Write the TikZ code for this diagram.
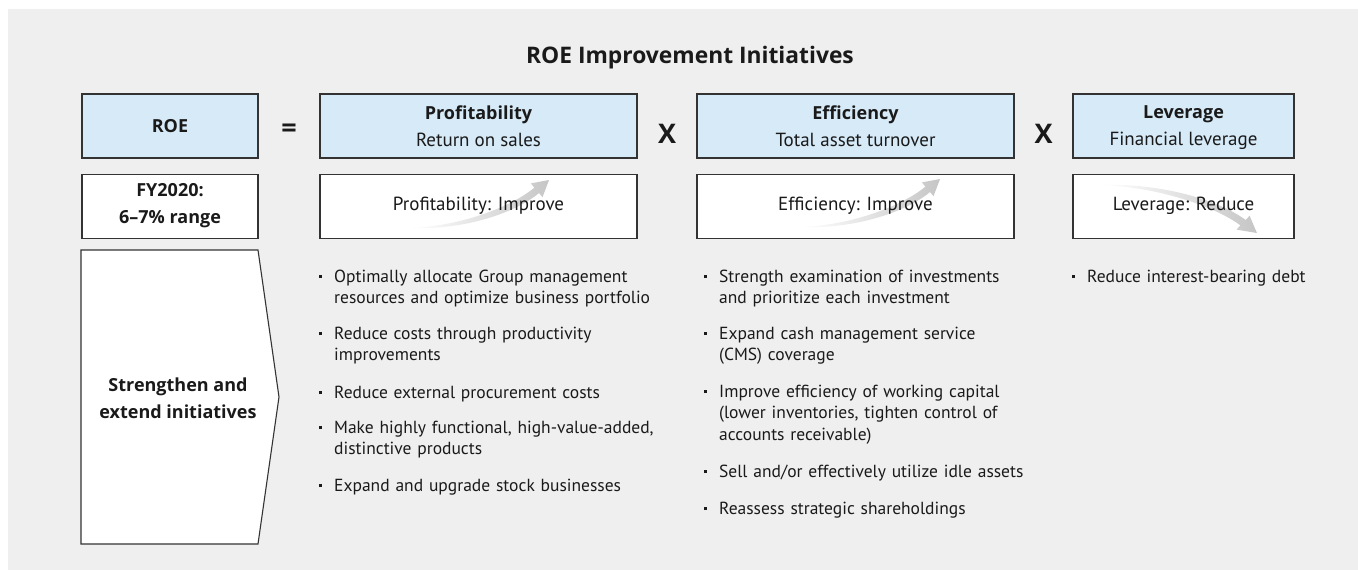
\documentclass[tikz,border=0pt]{standalone}
\usepackage{fontspec}
\setmainfont{PT Sans}
\newfontfamily\headfont{Open Sans}
\usetikzlibrary{positioning}

\definecolor{bgray}{HTML}{EFEFEF}
\definecolor{hdblue}{HTML}{D6EAF8}
\definecolor{ink}{HTML}{1A1A1A}
\definecolor{edge}{HTML}{333333}

\newcommand\boxfont{\fontsize{19}{27}\selectfont}
\newcommand\bodyfont{\fontsize{17.5}{21.5}\selectfont}
\newcommand\hd[1]{{\headfont\bfseries\fontsize{18}{27}\selectfont #1}}
\newcommand\bul{\llap{\raisebox{0.22em}{\rule{2.8pt}{2.8pt}}\hspace{12.2pt}}}

\tikzset{
  hdbox/.style={draw=edge, line width=1.1pt, fill=hdblue, minimum height=64pt,
    inner sep=0pt, align=center, font=\boxfont, text=ink},
  lowbox/.style={hdbox, fill=white},
  oper/.style={font=\headfont\bfseries\fontsize{27}{27}\selectfont, text=ink},
  item/.style={anchor=base west, align=left, inner sep=0pt, font=\bodyfont,
    text=ink},
  trend/.pic={
    \shade[left color=white, right color=gray!45]
      (0,0) .. controls (50,2) and (100.4,21.1) .. (123.4,40.4)
      -- (119.9,44.6) -- (138,48) -- (131.5,30.8) -- (128,35)
      .. controls (105,15.7) and (55,-2) .. (0,0) -- cycle;
  }
}

\begin{document}
\begin{tikzpicture}[x=1pt, y=-1pt]
  \useasboundingbox (0,0) rectangle (1358,570);
  \fill[bgray] (8,9) rectangle (1358,570);

  % title
  \node[font=\headfont\bfseries\fontsize{22.8}{25}\selectfont, text=ink] (title)
    at (690,58) {ROE Improvement Initiatives};

  % top row: ROE = profitability x efficiency x leverage
  \node[hdbox, minimum width=176pt] (roe) at (170,126) {\hd{ROE}};
  \node[hdbox, minimum width=317pt] (prof) at (478.5,126)
    {\hd{Profitability}\\Return on sales};
  \node[hdbox, minimum width=317pt] (effi) at (855.5,126)
    {\hd{Efficiency}\\Total asset turnover};
  \node[hdbox, minimum width=221pt] (lev) at (1183.5,126)
    {\hd{Leverage}\\\smash{Financial leverage}};
  \node[oper] (eq) at (289,131) {=};
  \node[oper] (x1) at (667,134) {X};
  \node[oper] (x2) at (1043.5,134) {X};

  % second row
  \node[lowbox, minimum width=176pt, below=15pt of roe] (fy)
    {\hd{FY2020:}\\\hd{6–7\% range}};
  \node[lowbox, minimum width=317pt, below=15pt of prof] (profup) {};
  \node[lowbox, minimum width=317pt, below=15pt of effi] (effiup) {};
  \node[lowbox, minimum width=221pt, below=15pt of lev] (levdown) {};
  \pic[yscale=-1] at (411,228) {trend};
  \pic[yscale=-1] at (802,227) {trend};
  \pic[xscale=1.13] at (1101,185) {trend};
  \node[font=\boxfont, text=ink] (proftxt) at (profup) {Profitability: Improve};
  \node[font=\boxfont, text=ink] (effitxt) at (effiup) {Efficiency: Improve};
  \node[font=\boxfont, text=ink] (levtxt) at (levdown) {Leverage: Reduce};

  % chevron
  \draw[draw=edge, line width=1.1pt, fill=white]
    (81,250) -- (258,250) -- (279,397) -- (258,544) -- (81,544) -- cycle;
  \node[align=center, font=\boxfont, text=ink] (strg) at (178,398)
    {\hd{Strengthen and}\\\hd{extend initiatives}};

  % profitability measures
  \node[item, text width=345pt] (p1) at (334,282)
    {\bul Optimally allocate Group management\\resources and optimize business portfolio};
  \node[item, text width=345pt] (p2) at (334,339)
    {\bul Reduce costs through productivity\\improvements};
  \node[item, text width=345pt] (p3) at (334,398)
    {\bul Reduce external procurement costs};
  \node[item, text width=345pt] (p4) at (334,433)
    {\bul Make highly functional, high-value-added,\\distinctive products};
  \node[item, text width=345pt] (p5) at (334,491)
    {\bul Expand and upgrade stock businesses};

  % efficiency measures
  \node[item, text width=315pt] (e1) at (719,282)
    {\bul Strength examination of investments\\and prioritize each investment};
  \node[item, text width=315pt] (e2) at (719,339)
    {\bul Expand cash management service\\(CMS) coverage};
  \node[item, text width=315pt] (e3) at (719,397)
    {\bul Improve efficiency of working capital\\(lower inventories, tighten control of\\accounts receivable)};
  \node[item, text width=315pt] (e4) at (719,477)
    {\bul Sell and/or effectively utilize idle assets};
  \node[item, text width=315pt] (e5) at (719,514)
    {\bul Reassess strategic shareholdings};

  % leverage measures
  \node[item, text width=255pt] (l1) at (1087,282)
    {\bul Reduce interest-bearing debt};
\end{tikzpicture}
\end{document}
